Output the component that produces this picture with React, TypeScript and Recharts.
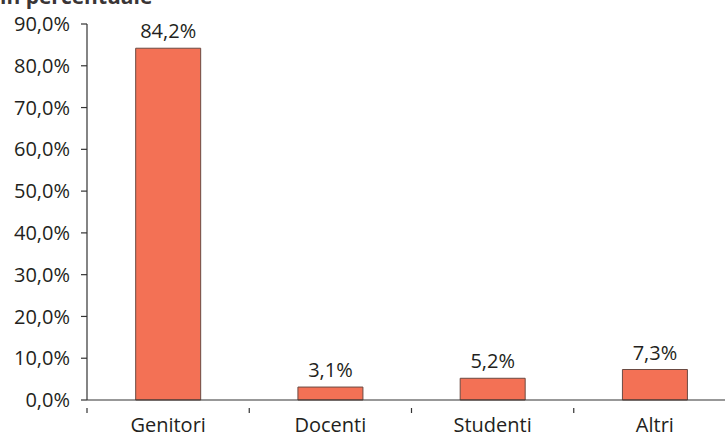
import { BarChart, Bar, XAxis, YAxis, LabelList } from 'recharts';

const CATEGORIES = ['Genitori', 'Docenti', 'Studenti', 'Altri'];
const VALUES = [84.2, 3.1, 5.2, 7.3];
const Y_TICKS = [0, 10, 20, 30, 40, 50, 60, 70, 80, 90];

const data = CATEGORIES.map((name, i) => ({ name, value: VALUES[i] }));

const CHART_W = 740;
const CHART_H = 436;
const Y_AXIS_W = 87;
const MARGIN_RIGHT = 4;
const BAND = (CHART_W - Y_AXIS_W - MARGIN_RIGHT) / CATEGORIES.length;

const FONT = '"Open Sans", "DejaVu Sans", sans-serif';
const TEXT = '#231f20';
const AXIS = '#333333';

const pct = (v: number) => `${v.toFixed(1).replace('.', ',')}%`;

// x-axis ticks sit on category boundaries, labels in the middle
function CategoryTick({ x, y, payload }: any) {
  const left = x - BAND / 2;
  return (
    <g>
      <line x1={left} y1={y} x2={left} y2={y + 5} stroke={AXIS} strokeWidth={1.2} />
      <text
        x={x}
        y={y + 10}
        dy="0.71em"
        textAnchor="middle"
        fill={TEXT}
        style={{ fontFamily: FONT, fontSize: 20 }}
      >
        {payload.value}
      </text>
    </g>
  );
}

export default function App() {
  return (
    <div
      style={{
        position: 'absolute',
        left: 0,
        top: 0,
        width: 725,
        height: 436,
        overflow: 'hidden',
        background: '#fff',
      }}
    >
      <div
        style={{
          position: 'absolute',
          left: 0,
          top: -19,
          fontFamily: FONT,
          fontWeight: 700,
          fontSize: 21,
          color: '#3a3536',
          whiteSpace: 'nowrap',
          lineHeight: '30px',
        }}
      >
        in percentuale
      </div>
      <BarChart
        width={CHART_W}
        height={CHART_H}
        data={data}
        margin={{ top: 24, right: MARGIN_RIGHT, left: 0, bottom: 0 }}
        barCategoryGap="30%"
      >
        <XAxis
          dataKey="name"
          height={36}
          tickLine={false}
          axisLine={{ stroke: AXIS, strokeWidth: 1.2 }}
          tick={<CategoryTick />}
          interval={0}
        />
        <YAxis
          type="number"
          domain={[0, 90]}
          ticks={Y_TICKS}
          width={Y_AXIS_W}
          tickFormatter={pct}
          tickSize={6}
          tickMargin={11}
          axisLine={{ stroke: AXIS, strokeWidth: 1.2 }}
          tickLine={{ stroke: AXIS, strokeWidth: 1.2 }}
          tick={{ fill: TEXT, fontSize: 20, fontFamily: FONT }}
          interval={0}
        />
        <Bar dataKey="value" fill="#f37155" stroke="#6b4a42" strokeWidth={1} isAnimationActive={false}>
          <LabelList
            dataKey="value"
            position="top"
            offset={10}
            formatter={(v: any) => pct(Number(v))}
            style={{ fill: TEXT, fontSize: 20, fontFamily: FONT }}
          />
        </Bar>
      </BarChart>
    </div>
  );
}
